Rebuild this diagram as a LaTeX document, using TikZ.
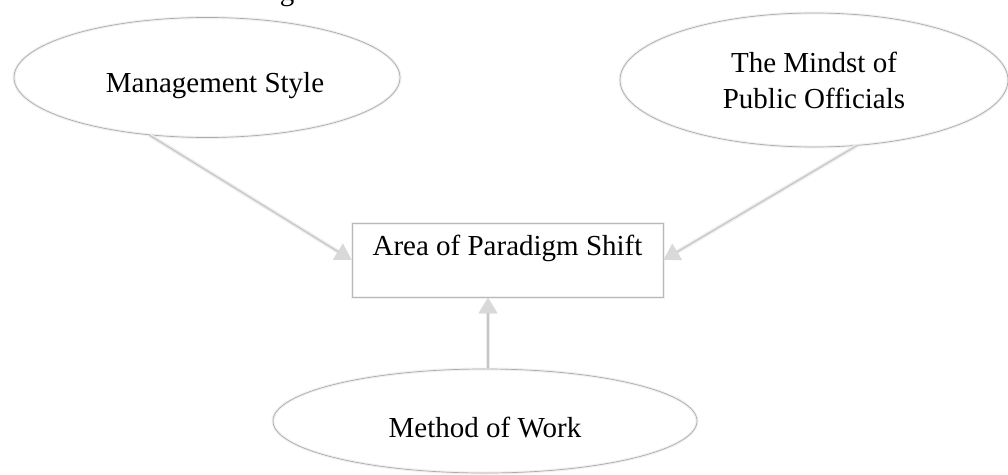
\documentclass[tikz,border=0pt]{standalone}
\usepackage{fontspec}
\setmainfont{Liberation Serif}
\usetikzlibrary{arrows.meta,shapes.geometric}
\tikzset{
  oval/.style={ellipse, draw=gray!65, line width=0.7pt, inner sep=0pt,
    preaction={draw=gray!12, line width=3pt},
    font=\fontsize{29}{36}\selectfont, align=center},
  boxnode/.style={rectangle, draw=gray!55, line width=0.8pt,
    preaction={draw=gray!12, line width=3pt},
    minimum width=311pt, inner xsep=0pt, inner ysep=6pt,
    text height=26pt, text depth=36pt,
    font=\fontsize{29}{36}\selectfont},
  link/.style={draw=gray!45, line width=1.2pt,
    preaction={draw=gray!15, line width=4pt},
    -{Triangle[width=18pt,length=16pt,fill=gray!30,color=gray!30]}},
}
\begin{document}
\begin{tikzpicture}[x=1pt,y=-1pt]
\useasboundingbox (0,0) rectangle (1008,474);
\node[anchor=base, font=\fontsize{29}{36}\selectfont] (cut) at (287,0) {g};
\node[oval, minimum width=386pt, minimum height=120pt,
      text height=29pt, text depth=0pt] (ms) at (207,77.5) {\hspace*{16pt}Management Style};
\node[oval, minimum width=388pt, minimum height=134pt] (mp) at (814,80) {The Mindst of\\Public Officials};
\node[boxnode] (box) at (507.5,260) {Area of Paradigm Shift};
\node[oval, minimum width=424pt, minimum height=104pt,
      text height=32pt, text depth=0pt] (mw) at (485,421) {Method of Work};
\draw[link] (ms.225) -- (box.west);
\draw[link] (mp.-57) -- (box.east);
\draw[link] ([xshift=3pt]mw.north) -- ([xshift=3pt]mw.north |- box.south);
\end{tikzpicture}
\end{document}
